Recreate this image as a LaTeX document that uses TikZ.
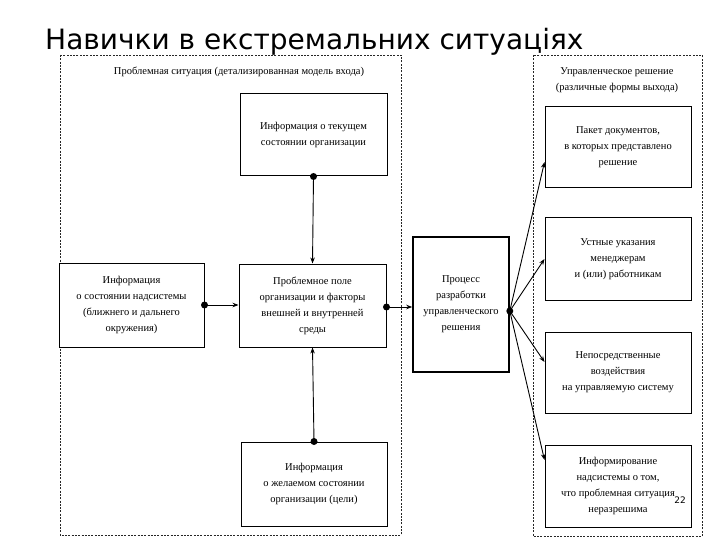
\documentclass[tikz,border=0pt]{standalone}
\usepackage{fontspec}
\setmainfont{Liberation Serif}
\newfontfamily\titlefont{DejaVu Sans}
\usetikzlibrary{arrows.meta}
\tikzset{
  box/.style={draw=black, line width=1pt, fill=white, align=center, inner sep=0pt,
    font=\fontsize{10.5}{16}\selectfont},
  procbox/.style={box, line width=1.6pt},
  frame/.style={draw=black!85, line width=0.9pt, dash pattern=on 2pt off 1.3pt},
  lbl/.style={align=center, font=\fontsize{10.5}{16}\selectfont},
  arr/.style={line width=0.9pt, -{Stealth[length=6pt,width=4.5pt]}},
  dotr/.style={fill=black}
}
\begin{document}
\begin{tikzpicture}[x=1pt,y=-1pt]
\useasboundingbox[fill=white] (0,0) rectangle (720,540);
% frames
\draw[frame] (60,55) rectangle (401,535);
\draw[frame] (533,55) rectangle (702,536);
\node[lbl] (lblL) at (239,72) {Проблемная ситуация (детализированная модель входа)};
\node[lbl] (lblR) at (617,80) {Управленческое решение\\(различные формы выхода)};
% title
\node[font=\titlefont\fontsize{28}{32}\selectfont, anchor=base west, inner sep=0pt] (title) at (45,50) {Навички в екстремальних ситуаціях};
% left boxes
\node[box, minimum width=147pt, minimum height=82pt] (cur) at (313.5,135) {Информация о текущем\\состоянии организации};
\node[box, minimum width=147pt, minimum height=83pt] (prob) at (312.5,305.5) {Проблемное поле\\организации и факторы\\внешней и внутренней\\среды};
\node[box, minimum width=145pt, minimum height=84pt] (sup) at (131.5,305) {Информация\\о состоянии надсистемы\\(ближнего и дальнего\\окружения)};
\node[box, minimum width=146pt, minimum height=84pt] (goal) at (314,484) {Информация\\о желаемом состоянии\\организации (цели)};
% process
\node[procbox, minimum width=96pt, minimum height=135pt] (proc) at (461,304.5) {Процесс\\разработки\\управленческого\\решения};
% right boxes
\node[box, minimum width=146pt, minimum height=81pt] (r1) at (618,147.5) {Пакет документов,\\в которых представлено\\решение};
\node[box, minimum width=146pt, minimum height=82pt] (r2) at (618,259) {Устные указания\\менеджерам\\и (или) работникам};
\node[box, minimum width=146pt, minimum height=81pt] (r3) at (618,372.5) {Непосредственные\\воздействия\\на управляемую систему};
\node[box, minimum width=146pt, minimum height=82pt] (r4) at (618,486) {Информирование\\надсистемы о том,\\что проблемная ситуация\\неразрешима};
% page number
\node[font=\titlefont\fontsize{9}{10}\selectfont, inner sep=0pt] (pg) at (680,500) {22};
% connectors
\draw[arr] (cur.south) -- (prob.north);
\fill[dotr] (cur.south) circle (3.5pt);
\draw[arr] (goal.north) -- (prob.south);
\fill[dotr] (goal.north) circle (3.5pt);
\draw[arr] (sup.east) -- (prob.west |- sup.east);
\fill[dotr] (sup.east) circle (3.5pt);
\coordinate (pe) at (prob.east |- 0,307);
\draw[arr] (pe) -- (proc.west |- pe);
\fill[dotr] (pe) circle (3.5pt);
\coordinate (pd) at (proc.east |- 0,311);
\draw[arr] (pd) -- (r1.west |- 0,162);
\draw[arr] (pd) -- (r2.west |- 0,259);
\draw[arr] (pd) -- (r3.west |- 0,362);
\draw[arr] (pd) -- (r4.west |- 0,460);
\fill[dotr] (pd) circle (3.5pt);
\end{tikzpicture}
\end{document}
